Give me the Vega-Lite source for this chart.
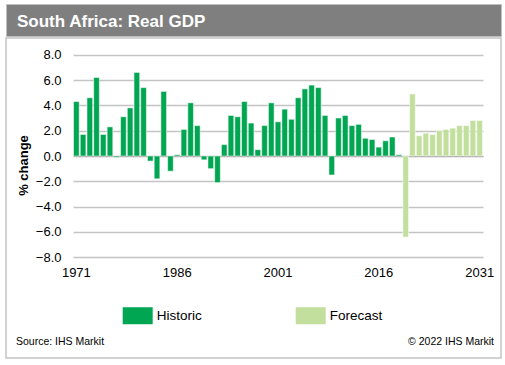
{
  "$schema": "https://vega.github.io/schema/vega-lite/v6.json",
  "padding": {"left": 5, "top": 3, "right": 5, "bottom": 5},
  "spacing": 0,
  "config": {"font": "Liberation Sans"},
  "vconcat": [
    {
      "width": 495,
      "height": 32,
      "view": {"fill": "#7f7f7f", "stroke": "#bfbfbf"},
      "data": {"values": [{"label": "South Africa: Real GDP", "px": 0, "py": 0.5}]},
      "mark": {"type": "text", "align": "left", "baseline": "middle", "dx": 11, "dy": 1.5, "font": "Liberation Sans", "fontSize": 17, "fontWeight": "bold", "color": "#ffffff"},
      "encoding": {
        "x": {"field": "px", "type": "quantitative", "scale": {"domain": [0, 1]}, "axis": null},
        "y": {"field": "py", "type": "quantitative", "scale": {"domain": [0, 1]}, "axis": null},
        "text": {"field": "label"}
      }
    },
    {
      "width": 495,
      "height": 320,
      "view": {"stroke": "#c4c4c4", "strokeWidth": 1.5},
      "resolve": {"scale": {"x": "independent", "y": "independent"}},
      "layer": [
        {
          "data": {"values": [
            {"year": 1971, "value": 4.3, "type": "Historic"},
            {"year": 1972, "value": 1.7, "type": "Historic"},
            {"year": 1973, "value": 4.6, "type": "Historic"},
            {"year": 1974, "value": 6.2, "type": "Historic"},
            {"year": 1975, "value": 1.7, "type": "Historic"},
            {"year": 1976, "value": 2.3, "type": "Historic"},
            {"year": 1977, "value": -0.1, "type": "Historic"},
            {"year": 1978, "value": 3.1, "type": "Historic"},
            {"year": 1979, "value": 3.8, "type": "Historic"},
            {"year": 1980, "value": 6.6, "type": "Historic"},
            {"year": 1981, "value": 5.4, "type": "Historic"},
            {"year": 1982, "value": -0.4, "type": "Historic"},
            {"year": 1983, "value": -1.8, "type": "Historic"},
            {"year": 1984, "value": 5.1, "type": "Historic"},
            {"year": 1985, "value": -1.2, "type": "Historic"},
            {"year": 1986, "value": 0.1, "type": "Historic"},
            {"year": 1987, "value": 2.1, "type": "Historic"},
            {"year": 1988, "value": 4.2, "type": "Historic"},
            {"year": 1989, "value": 2.4, "type": "Historic"},
            {"year": 1990, "value": -0.3, "type": "Historic"},
            {"year": 1991, "value": -1.0, "type": "Historic"},
            {"year": 1992, "value": -2.1, "type": "Historic"},
            {"year": 1993, "value": 0.9, "type": "Historic"},
            {"year": 1994, "value": 3.2, "type": "Historic"},
            {"year": 1995, "value": 3.1, "type": "Historic"},
            {"year": 1996, "value": 4.3, "type": "Historic"},
            {"year": 1997, "value": 2.6, "type": "Historic"},
            {"year": 1998, "value": 0.5, "type": "Historic"},
            {"year": 1999, "value": 2.4, "type": "Historic"},
            {"year": 2000, "value": 4.2, "type": "Historic"},
            {"year": 2001, "value": 2.7, "type": "Historic"},
            {"year": 2002, "value": 3.7, "type": "Historic"},
            {"year": 2003, "value": 2.9, "type": "Historic"},
            {"year": 2004, "value": 4.6, "type": "Historic"},
            {"year": 2005, "value": 5.3, "type": "Historic"},
            {"year": 2006, "value": 5.6, "type": "Historic"},
            {"year": 2007, "value": 5.4, "type": "Historic"},
            {"year": 2008, "value": 3.2, "type": "Historic"},
            {"year": 2009, "value": -1.5, "type": "Historic"},
            {"year": 2010, "value": 3.0, "type": "Historic"},
            {"year": 2011, "value": 3.2, "type": "Historic"},
            {"year": 2012, "value": 2.4, "type": "Historic"},
            {"year": 2013, "value": 2.5, "type": "Historic"},
            {"year": 2014, "value": 1.4, "type": "Historic"},
            {"year": 2015, "value": 1.3, "type": "Historic"},
            {"year": 2016, "value": 0.7, "type": "Historic"},
            {"year": 2017, "value": 1.2, "type": "Historic"},
            {"year": 2018, "value": 1.5, "type": "Historic"},
            {"year": 2019, "value": 0.1, "type": "Historic"},
            {"year": 2020, "value": -6.4, "type": "Forecast"},
            {"year": 2021, "value": 4.9, "type": "Forecast"},
            {"year": 2022, "value": 1.6, "type": "Forecast"},
            {"year": 2023, "value": 1.8, "type": "Forecast"},
            {"year": 2024, "value": 1.7, "type": "Forecast"},
            {"year": 2025, "value": 2.0, "type": "Forecast"},
            {"year": 2026, "value": 2.1, "type": "Forecast"},
            {"year": 2027, "value": 2.2, "type": "Forecast"},
            {"year": 2028, "value": 2.4, "type": "Forecast"},
            {"year": 2029, "value": 2.4, "type": "Forecast"},
            {"year": 2030, "value": 2.8, "type": "Forecast"},
            {"year": 2031, "value": 2.8, "type": "Forecast"}
          ]},
          "mark": {"type": "bar", "stroke": "#ffffff", "strokeOpacity": 0.5, "strokeWidth": 1},
          "encoding": {
            "x": {
              "field": "year", "type": "ordinal",
              "scale": {"range": [67, 477], "paddingInner": 0.16, "paddingOuter": 0.08},
              "axis": {"values": [1971, 1986, 2001, 2016, 2031], "labelAngle": 0, "title": null, "domain": false, "ticks": false, "grid": false, "labelFontSize": 13, "labelColor": "#000000", "labelPadding": 9, "offset": -100.7}
            },
            "y": {
              "field": "value", "type": "quantitative",
              "scale": {"domain": [-8, 8], "range": [219.3, 16.7], "nice": false},
              "axis": {"values": [-8, -6, -4, -2, 0, 2, 4, 6, 8], "format": ".1f", "title": "% change", "titleFontSize": 13, "titleFontWeight": "bold", "titleColor": "#000000", "titlePadding": 5, "titleY": 127, "labelFontSize": 13, "labelColor": "#000000", "labelPadding": 12, "domain": false, "ticks": false, "grid": true, "gridColor": {"condition": {"test": "datum.value === 0", "value": "#a6a6a6"}, "value": "#c4c4c4"}, "gridWidth": 1.3, "offset": -67}
            },
            "color": {
              "field": "type", "type": "nominal",
              "scale": {"domain": ["Historic", "Forecast"], "range": ["#00A651", "#C3DF9E"]},
              "legend": {"orient": "none", "legendX": 116.7, "legendY": 296.5, "direction": "horizontal", "columns": 2, "title": null, "symbolType": "M-1,-0.567H1V0.567H-1Z", "symbolSize": 900, "symbolStrokeWidth": 0, "labelFontSize": 13.5, "labelColor": "#000000", "labelOffset": 4, "columnPadding": 93, "padding": 0, "labelFont": "Liberation Sans"}
            }
          }
        },
        {
          "data": {"values": [{"t": "Source: IHS Markit", "px": 0, "py": 0}]},
          "mark": {"type": "text", "align": "left", "baseline": "middle", "dx": 10, "dy": -16, "fontSize": 10.5, "color": "#000000"},
          "encoding": {
            "x": {"field": "px", "type": "quantitative", "scale": {"domain": [0, 1]}, "axis": null},
            "y": {"field": "py", "type": "quantitative", "scale": {"domain": [0, 1]}, "axis": null},
            "text": {"field": "t"}
          }
        },
        {
          "data": {"values": [{"t": "© 2022 IHS Markit", "px": 1, "py": 0}]},
          "mark": {"type": "text", "align": "right", "baseline": "middle", "dx": -7, "dy": -16, "fontSize": 10.5, "color": "#000000"},
          "encoding": {
            "x": {"field": "px", "type": "quantitative", "scale": {"domain": [0, 1]}, "axis": null},
            "y": {"field": "py", "type": "quantitative", "scale": {"domain": [0, 1]}, "axis": null},
            "text": {"field": "t"}
          }
        }
      ]
    }
  ]
}
